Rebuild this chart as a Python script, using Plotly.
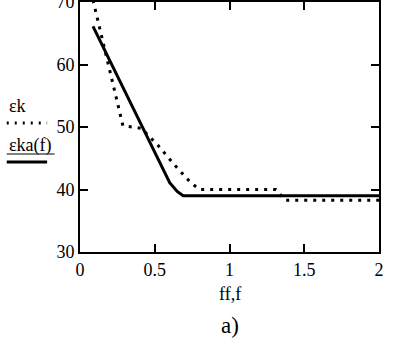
import plotly.graph_objects as go

# εka(f) – solid curve
f_solid = [0.087, 0.2, 0.3, 0.4, 0.45, 0.5, 0.55, 0.6, 0.65, 0.69, 1.0, 1.5, 2.0]
eka = [66.1, 60.6, 55.8, 50.9, 48.5, 46.0, 43.4, 41.1, 39.7, 39.0, 39.0, 39.0, 39.0]

# εk – dotted measured data
ff = [0.087, 0.287, 0.35, 0.41, 0.52, 0.63, 0.74, 0.8, 1.31, 1.37, 2.0]
ek = [70.3, 50.2, 50.0, 49.8, 47.1, 44.0, 41.1, 40.0, 40.0, 38.3, 38.3]

x_ticks = [0, 0.5, 1, 1.5, 2]
x_tick_labels = ["0", "0.5", "1", "1.5", "2"]
y_ticks = [30, 40, 50, 60, 70]
y_tick_labels = ["30", "40", "50", "60", "70"]

font = "'Liberation Serif', 'DejaVu Serif', 'Times New Roman', serif"

fig = go.Figure()
fig.add_trace(go.Scatter(x=ff, y=ek, mode="lines",
                         line=dict(color="black", width=3, dash="3px,6px"),
                         showlegend=False))
fig.add_trace(go.Scatter(x=f_solid, y=eka, mode="lines",
                         line=dict(color="black", width=3),
                         showlegend=False))

axis_common = dict(showline=True, linecolor="black", linewidth=2, mirror="ticks",
                   ticks="inside", ticklen=8, tickwidth=2, tickcolor="black",
                   showgrid=False, zeroline=False, automargin=False,
                   ticklabeloverflow="allow",
                   tickfont=dict(family=font, size=18, color="black"))

fig.update_xaxes(range=[0, 2], tickvals=x_ticks, ticktext=x_tick_labels, **axis_common)
fig.update_yaxes(range=[30, 70], tickvals=y_ticks, ticktext=y_tick_labels, **axis_common)

# axis title and caption
fig.add_annotation(text="ff,f", xref="paper", yref="paper", x=0.5, y=-0.216,
                   showarrow=False, font=dict(family=font, size=18, color="black"))
fig.add_annotation(text="a)", xref="paper", yref="paper", x=0.5, y=-0.352,
                   showarrow=False, font=dict(family=font, size=23, color="black"))

# legend on the left
fig.add_annotation(text="εk", xref="paper", yref="paper", x=-0.245, y=0.584,
                   xanchor="left", showarrow=False,
                   font=dict(family=font, size=18, color="black"))
fig.add_shape(type="line", xref="paper", yref="paper", x0=-0.245, x1=-0.11,
              y0=0.516, y1=0.516, line=dict(color="black", width=3, dash="2px,6px"))
fig.add_annotation(text="εka(f)", xref="paper", yref="paper", x=-0.245, y=0.425,
                   xanchor="left", showarrow=False,
                   font=dict(family=font, size=18, color="black"))
fig.add_shape(type="line", xref="paper", yref="paper", x0=-0.245, x1=-0.085,
              y0=0.392, y1=0.392, line=dict(color="black", width=1))
fig.add_shape(type="line", xref="paper", yref="paper", x0=-0.245, x1=-0.11,
              y0=0.36, y1=0.36, line=dict(color="black", width=3))

fig.update_layout(width=414, height=358, margin=dict(l=80, r=35, t=2, b=106),
                  plot_bgcolor="white", paper_bgcolor="white")

fig.write_html("out.html", config={"displayModeBar": False},
               post_script="document.body.style.margin='0';")
